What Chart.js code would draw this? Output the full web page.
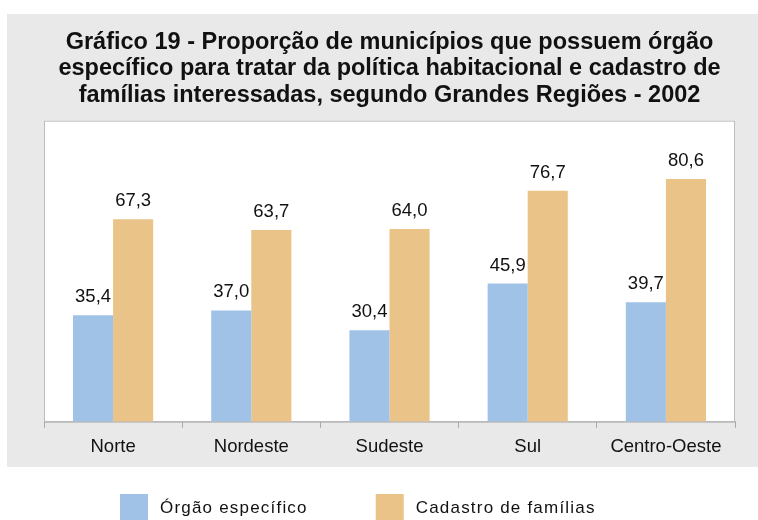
<!DOCTYPE html>
<html>
<head>
<meta charset="utf-8">
<script src="https://cdn.jsdelivr.net/npm/chart.js@4.4.0/dist/chart.umd.min.js"></script>
<style>
  html, body { margin: 0; padding: 0; background: #ffffff; }
  #wrap { width: 758px; height: 520px; }
</style>
</head>
<body>
<div id="wrap"><canvas id="grafico" width="758" height="520"></canvas></div>
<script>
const regioes = ["Norte", "Nordeste", "Sudeste", "Sul", "Centro-Oeste"];
const orgaoEspecifico = [35.4, 37.0, 30.4, 45.9, 39.7];
const cadastroFamilias = [67.3, 63.7, 64.0, 76.7, 80.6];
const titulo = [
    "Gráfico 19 - Proporção de municípios que possuem órgão",
    "específico para tratar da política habitacional e cadastro de",
    "famílias interessadas, segundo Grandes Regiões - 2002"
];

const fonte = "'Liberation Sans', Arial, sans-serif";

// fundo cinza e área branca do gráfico
const fundo = {
    id: "fundo",
    beforeDraw(chart) {
        const ctx = chart.ctx;
        const a = chart.chartArea;
        ctx.save();
        ctx.fillStyle = "#e9e9e9";
        ctx.fillRect(7, 14, 751, 453);
        ctx.fillStyle = "#ffffff";
        ctx.fillRect(a.left, a.top, a.right - a.left, a.bottom - a.top);
        ctx.strokeStyle = "#bdbdbd";
        ctx.lineWidth = 1;
        ctx.strokeRect(a.left + 0.5, a.top + 0.5, a.right - a.left - 1, a.bottom - a.top);
        ctx.restore();
    }
};

// valores acima das barras
const rotulos = {
    id: "rotulos",
    afterDatasetsDraw(chart) {
        const ctx = chart.ctx;
        ctx.save();
        ctx.font = "18.5px " + fonte;
        ctx.fillStyle = "#111111";
        ctx.textAlign = "center";
        ctx.textBaseline = "alphabetic";
        chart.data.datasets.forEach((ds, i) => {
            chart.getDatasetMeta(i).data.forEach((bar, j) => {
                ctx.fillText(ds.data[j].toFixed(1).replace(".", ","), bar.x, bar.y - 13);
            });
        });
        ctx.restore();
    }
};

// legenda embaixo, fora do fundo cinza
const legenda = {
    id: "legenda",
    afterDraw(chart) {
        const ctx = chart.ctx;
        ctx.save();
        ctx.font = "17px " + fonte;
        ctx.letterSpacing = "1.2px";
        const caixa = 28, gap = 12, entre = 68;
        let x = 120;
        const y = 494;
        chart.data.datasets.forEach(ds => {
            const w = ctx.measureText(ds.label).width;
            ctx.fillStyle = ds.backgroundColor;
            ctx.fillRect(x, y, caixa, 26);
            ctx.fillStyle = "#111111";
            ctx.textBaseline = "middle";
            ctx.fillText(ds.label, x + caixa + gap, y + 14);
            x += caixa + gap + w + entre;
        });
        ctx.restore();
    }
};

new Chart(document.getElementById("grafico"), {
    type: "bar",
    data: {
        labels: regioes,
        datasets: [{
            label: "Órgão específico",
            data: orgaoEspecifico,
            backgroundColor: "#a0c2e7"
        }, {
            label: "Cadastro de famílias",
            data: cadastroFamilias,
            backgroundColor: "#e9c388"
        }]
    },
    options: {
        responsive: false,
        animation: false,
        layout: {
            padding: { top: 14, left: 44, right: 23, bottom: 54 }
        },
        datasets: {
            bar: { categoryPercentage: 0.58, barPercentage: 1.0 }
        },
        plugins: {
            legend: { display: false },
            tooltip: { enabled: false },
            title: {
                display: true,
                text: titulo,
                color: "#111111",
                font: { family: fonte, size: 23.5, weight: "bold", lineHeight: 1.13 },
                padding: { top: 15, bottom: 12 }
            }
        },
        scales: {
            x: {
                grid: { display: true, drawOnChartArea: false, drawTicks: true, tickLength: 6, color: "#a8a8a8" },
                border: { display: true, color: "#b8b8b8" },
                ticks: { color: "#111111", font: { family: fonte, size: 18.5 }, padding: 8 }
            },
            y: {
                display: false,
                min: 0,
                max: 100
            }
        }
    },
    plugins: [fundo, rotulos, legenda]
});
</script>
</body>
</html>
